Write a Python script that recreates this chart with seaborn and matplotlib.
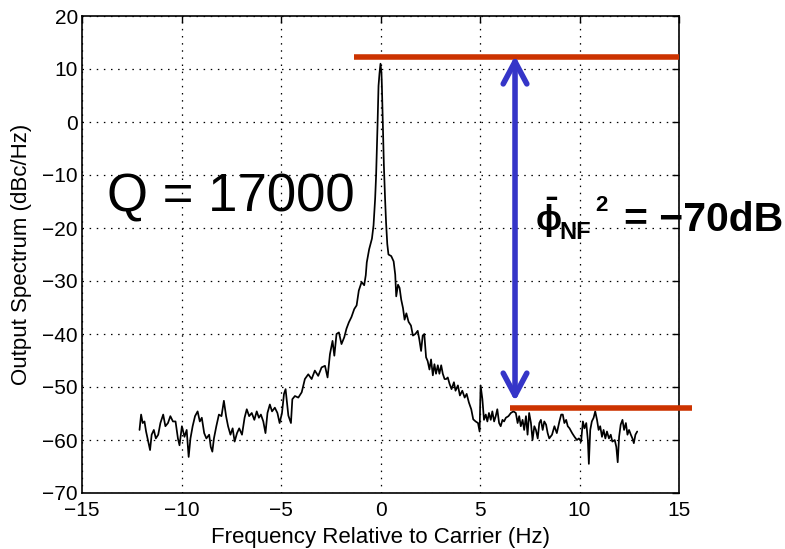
import matplotlib
matplotlib.use("Agg")
import matplotlib.pyplot as plt
import seaborn as sns
import pandas as pd

# ---------------- data ----------------
freq_hz = [
    -12.11, -12.03, -11.95, -11.86, -11.78, -11.67, -11.58, -11.50, -11.39, -11.29,
    -11.17, -11.06, -10.92, -10.81, -10.68, -10.56, -10.43, -10.30, -10.18, -10.10,
    -9.98, -9.85, -9.74, -9.64, -9.55, -9.44, -9.32, -9.19, -9.08, -8.98,
    -8.86, -8.75, -8.61, -8.53, -8.45, -8.37, -8.25, -8.12, -7.99, -7.87,
    -7.76, -7.66, -7.54, -7.43, -7.33, -7.21, -7.10, -6.96, -6.83, -6.72,
    -6.60, -6.47, -6.34, -6.22, -6.11, -6.01, -5.89, -5.78, -5.68, -5.56,
    -5.45, -5.31, -5.18, -5.07, -4.95, -4.85, -4.77, -4.63, -4.50, -4.43,
    -4.30, -4.13, -3.96, -3.80, -3.63, -3.46, -3.30, -3.13, -2.96, -2.79,
    -2.66, -2.54, -2.41, -2.32, -2.21, -2.09, -1.96, -1.82, -1.71, -1.59,
    -1.46, -1.32, -1.20, -1.09, -0.95, -0.82, -0.74, -0.69, -0.57, -0.43,
    -0.35, -0.27, -0.22, -0.18, -0.15, -0.13, -0.10, -0.05, 0.00, 0.05,
    0.07, 0.10, 0.13, 0.17, 0.23, 0.28, 0.34, 0.40, 0.54, 0.66,
    0.74, 0.79, 0.88, 0.96, 1.04, 1.13, 1.21, 1.30, 1.41, 1.53,
    1.63, 1.75, 1.87, 1.95, 2.04, 2.12, 2.20, 2.29, 2.37, 2.46,
    2.54, 2.63, 2.71, 2.79, 2.88, 2.96, 3.05, 3.13, 3.22, 3.30,
    3.38, 3.47, 3.57, 3.69, 3.77, 3.89, 3.99, 4.11, 4.23, 4.33,
    4.44, 4.56, 4.66, 4.78, 4.90, 4.98, 5.03, 5.12, 5.20, 5.29,
    5.37, 5.45, 5.54, 5.62, 5.71, 5.79, 5.87, 5.96, 6.04, 6.13,
    6.21, 6.30, 6.43, 6.55, 6.68, 6.80, 6.89, 6.97, 7.05, 7.14,
    7.22, 7.31, 7.39, 7.47, 7.56, 7.64, 7.73, 7.81, 7.90, 7.98,
    8.06, 8.15, 8.23, 8.32, 8.40, 8.48, 8.62, 8.74, 8.86, 8.99,
    9.08, 9.16, 9.24, 9.33, 9.41, 9.50, 9.63, 9.75, 9.87, 9.97,
    10.08, 10.17, 10.25, 10.34, 10.42, 10.47, 10.54, 10.62, 10.71, 10.79,
    10.88, 10.96, 11.04, 11.13, 11.21, 11.30, 11.38, 11.48, 11.57, 11.65,
    11.77, 11.85, 11.92, 11.99, 12.07, 12.16, 12.24, 12.33, 12.41, 12.49,
    12.58, 12.66, 12.73, 12.81, 12.90,
]
spectrum_dbc = [
    -58.1, -55.2, -56.8, -56.5, -58.4, -60.3, -61.9, -59.0, -58.1, -59.7,
    -59.0, -56.8, -55.2, -57.4, -56.8, -55.5, -56.5, -56.5, -59.7, -61.0,
    -57.4, -59.4, -58.1, -63.2, -59.7, -57.4, -55.5, -54.6, -56.5, -55.8,
    -58.7, -59.7, -59.0, -61.3, -62.2, -59.7, -57.4, -55.2, -55.5, -52.6,
    -55.5, -57.4, -59.0, -57.8, -60.3, -58.7, -57.8, -59.0, -55.8, -54.2,
    -55.5, -54.9, -56.2, -54.6, -55.8, -55.2, -56.5, -58.7, -54.9, -53.3,
    -54.6, -53.9, -54.9, -56.8, -54.9, -51.3, -50.4, -55.4, -56.8, -52.3,
    -51.7, -52.0, -51.0, -48.5, -47.6, -48.5, -46.9, -47.9, -46.3, -46.0,
    -48.2, -43.8, -41.3, -44.1, -40.0, -39.7, -41.9, -40.6, -39.0, -37.8,
    -36.8, -35.3, -34.6, -31.8, -30.2, -30.8, -28.9, -26.5, -24.0, -22.0,
    -19.5, -14.5, -10.0, -5.0, -0.7, 2.5, 6.8, 9.2, 11.0, 9.2,
    6.8, 2.5, -2.5, -8.2, -14.5, -19.0, -23.0, -25.0, -25.3, -26.3,
    -28.8, -32.9, -30.7, -31.3, -33.5, -35.1, -37.3, -36.1, -37.7, -38.4,
    -40.3, -40.0, -39.4, -41.0, -43.2, -40.3, -40.0, -44.4, -45.1, -46.7,
    -44.8, -47.8, -45.7, -47.5, -45.9, -47.5, -45.9, -47.5, -48.5, -48.5,
    -48.2, -49.4, -50.4, -49.1, -50.7, -49.7, -51.6, -50.7, -52.0, -51.3,
    -52.9, -54.2, -56.1, -56.5, -56.8, -58.4, -49.7, -52.3, -56.2, -55.2,
    -56.5, -54.9, -56.2, -54.6, -56.5, -55.5, -54.2, -56.8, -57.4, -56.2,
    -56.5, -55.8, -55.5, -54.9, -54.6, -54.9, -56.8, -55.5, -57.4, -56.2,
    -58.1, -55.5, -59.0, -54.9, -56.8, -60.0, -57.4, -58.1, -59.7, -56.8,
    -56.2, -58.1, -56.5, -57.1, -58.7, -59.7, -59.0, -57.4, -58.7, -56.5,
    -55.2, -55.2, -56.8, -56.2, -57.4, -57.8, -58.7, -59.4, -60.0, -59.7,
    -60.3, -56.5, -57.8, -56.8, -60.0, -64.5, -58.1, -56.5, -55.8, -54.6,
    -56.2, -58.1, -57.4, -59.4, -58.1, -59.7, -58.4, -59.7, -59.0, -60.3,
    -60.0, -61.3, -64.2, -59.4, -57.1, -56.2, -58.1, -56.8, -59.0, -58.1,
    -59.0, -59.7, -60.6, -59.0, -58.4,
]

x_ticks = [-15, -10, -5, 0, 5, 10, 15]
y_ticks = [-70, -60, -50, -40, -30, -20, -10, 0, 10, 20]

# annotation levels (dBc/Hz) and extents (Hz)
peak_level = 12.2
peak_line_x = [-1.33, 15.0]
floor_level = -53.9
floor_line_x = [6.5, 15.65]
arrow_x = 6.76
arrow_top = 12.5
arrow_bottom = -52.7

q_label = "Q = 17000"
phi_label = r"$\bar{\phi}$"
sub_label = "NF"
sup_label = "2"
value_label = "= \u221270dB"

# ---------------- style ----------------
sns.set_theme(style="white")
plt.rcParams["font.family"] = ["Liberation Sans", "DejaVu Sans"]
plt.rcParams["mathtext.fontset"] = "custom"
plt.rcParams["mathtext.rm"] = "Liberation Sans:bold"
plt.rcParams["mathtext.it"] = "Liberation Sans:bold"
plt.rcParams["mathtext.bf"] = "Liberation Sans:bold"
plt.rcParams["axes.unicode_minus"] = True

df = pd.DataFrame({"freq": freq_hz, "spec": spectrum_dbc})

fig = plt.figure(figsize=(7.85, 5.49), dpi=100)
ax = fig.add_axes([82 / 785, 1 - 493 / 549, (679 - 82) / 785, (493 - 16) / 549])

sns.lineplot(data=df, x="freq", y="spec", ax=ax, color="black", linewidth=1.25,
             estimator=None, sort=False)

ax.set_xlim(-15, 15)
ax.set_ylim(-70, 20)
ax.set_xticks(x_ticks)
ax.set_yticks(y_ticks)
ax.grid(True, color="black", linestyle=(0, (1.2, 4.5)), linewidth=0.9)
ax.tick_params(direction="in", length=5, width=1, top=True, right=True,
               labelsize=15, colors="black", pad=6)
ax.tick_params(axis="y", pad=3)
for s in ax.spines.values():
    s.set_color("black")
    s.set_linewidth(1.2)

ax.set_xlabel("Frequency Relative to Carrier (Hz)", fontsize=16, color="black", labelpad=5)
ax.set_ylabel("Output Spectrum (dBc/Hz)", fontsize=16, color="black", labelpad=7)

# annotations
red = "#CC3300"
ax.plot(peak_line_x, [peak_level, peak_level], color=red, linewidth=4,
        solid_capstyle="butt", clip_on=False, zorder=5)
ax.plot(floor_line_x, [floor_level, floor_level], color=red, linewidth=4,
        solid_capstyle="butt", clip_on=False, zorder=5)
ax.annotate("", xy=(arrow_x, arrow_top), xytext=(arrow_x, arrow_bottom),
            arrowprops=dict(arrowstyle="<->,head_length=1.6,head_width=0.85",
                            color="#3535C8", linewidth=4, mutation_scale=10,
                            shrinkA=0, shrinkB=0),
            annotation_clip=False, zorder=6)

ax.text(-13.75, -16.8, q_label, fontsize=38, color="black", ha="left", va="baseline")

# noise-floor label placed in pixel space (figure is 785 x 549 px)
def px(x, y):
    return x / 785, 1 - y / 549

fig.text(*px(535, 231), phi_label, fontsize=25, color="black", ha="left", va="baseline")
fig.text(*px(559, 239), sub_label, fontsize=17, fontweight="bold", color="black",
         ha="left", va="baseline")
fig.text(*px(595, 211), sup_label, fontsize=16, fontweight="bold", color="black",
         ha="left", va="baseline")
fig.text(*px(624, 231), value_label, fontsize=29.5, fontweight="bold", color="black",
         ha="left", va="baseline")

fig.savefig("out.png", dpi=100)
